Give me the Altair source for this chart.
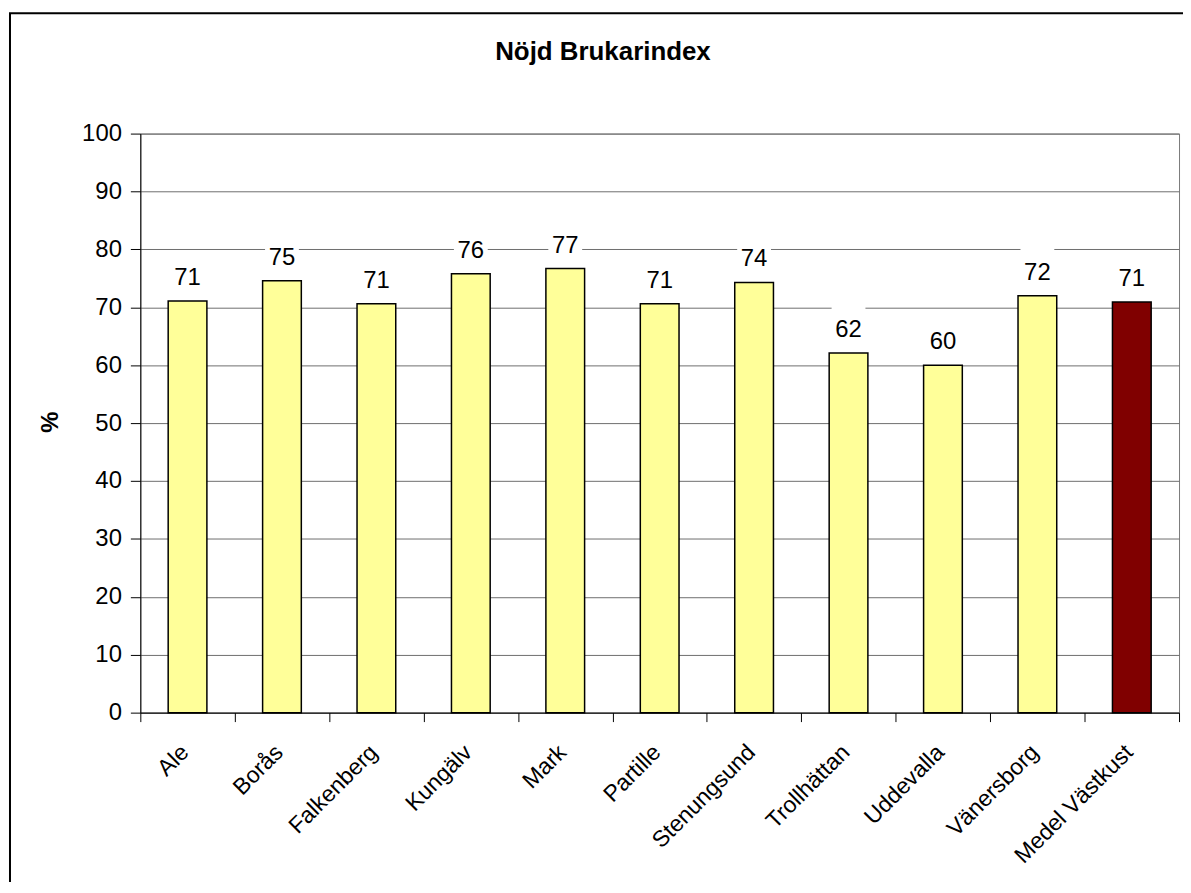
import altair as alt
import pandas as pd

categories = ["Ale", "Borås", "Falkenberg", "Kungälv", "Mark", "Partille",
              "Stenungsund", "Trollhättan", "Uddevalla", "Vänersborg", "Medel Västkust"]
values = [71.1, 74.6, 70.6, 75.8, 76.7, 70.6, 74.3, 62.1, 60.0, 72.0, 70.9]
groups = ["kommun"] * 10 + ["medel"]
chart_title = "Nöjd Brukarindex"
y_title = "%"
y_ticks = list(range(0, 101, 10))

df = pd.DataFrame({"kommun": categories, "index": values, "grupp": groups})

FONT = "Liberation Sans"
W, H = 1044, 582

x_enc = alt.X(
    "kommun:N", sort=categories,
    scale=alt.Scale(paddingInner=0, paddingOuter=0),
    axis=alt.Axis(title=None, labelAngle=-45, labelAlign="right", labelBaseline="middle",
                  labelFontSize=23, labelFont=FONT, labelColor="black", labelPadding=27,
                  labelOffset=-3,
                  tickBand="extent", tickSize=9, tickColor="black", tickWidth=1,
                  domainColor="black", domainWidth=1, labelOverlap=False, grid=False,
                  labelLimit=0),
)
y_axis = alt.Axis(title=None, values=y_ticks, labelFontSize=24, labelFont=FONT,
                  labelColor="black", tickSize=10, tickColor="black", labelPadding=9,
                  grid=True, gridColor="#6e6e6e", gridWidth=1, domainColor="black",
                  domainWidth=1)
y_scale = alt.Scale(domain=[0, 100], nice=False)

base = alt.Chart(df)

boxes = base.transform_calculate(
    top="datum.index + 8.3", bot="datum.index + 2.3"
).mark_bar(color="white", width=34).encode(
    x=x_enc,
    y=alt.Y("top:Q", scale=y_scale, axis=y_axis),
    y2="bot:Q",
)

bars = base.mark_bar(stroke="black", strokeWidth=1.5, width=alt.RelativeBandSize(0.41)).encode(
    x=x_enc,
    y=alt.Y("index:Q", scale=y_scale, axis=y_axis),
    color=alt.Color("grupp:N", scale=alt.Scale(domain=["kommun", "medel"],
                                                range=["#FFFF99", "#800000"]), legend=None),
)

labels = base.mark_text(font=FONT, fontSize=24, color="black", baseline="alphabetic",
                        align="center", dy=-16).encode(
    x=x_enc,
    y=alt.Y("index:Q", scale=y_scale, axis=y_axis),
    text=alt.Text("index:Q", format=".0f"),
)

title = alt.Chart(pd.DataFrame({"t": [chart_title]})).mark_text(
    font=FONT, fontSize=26, fontWeight="bold", color="black",
    align="center", baseline="alphabetic").encode(
    x=alt.value(465), y=alt.value(-74), text="t:N")

ytitle = alt.Chart(pd.DataFrame({"t": [y_title]})).mark_text(
    font=FONT, fontSize=24, fontWeight="bold", color="black",
    align="center", baseline="middle", angle=270).encode(
    x=alt.value(-90), y=alt.value(290), text="t:N")

frame = alt.Chart(pd.DataFrame({"a": [0]})).mark_rect(
    fillOpacity=0, stroke="black", strokeWidth=2).encode(
    x=alt.value(-131), x2=alt.value(1100), y=alt.value(-121), y2=alt.value(900))

chart = alt.layer(boxes, bars, labels, title, ytitle, frame).properties(
    width=W, height=H,
    padding={"left": 133, "top": 124, "right": 4, "bottom": 168},
    autosize=alt.AutoSizeParams(type="none"),
    background="white",
).configure_view(stroke="#7a7a7a", strokeWidth=1)

chart.save("out.html", embed_options={"renderer": "svg", "actions": False})
